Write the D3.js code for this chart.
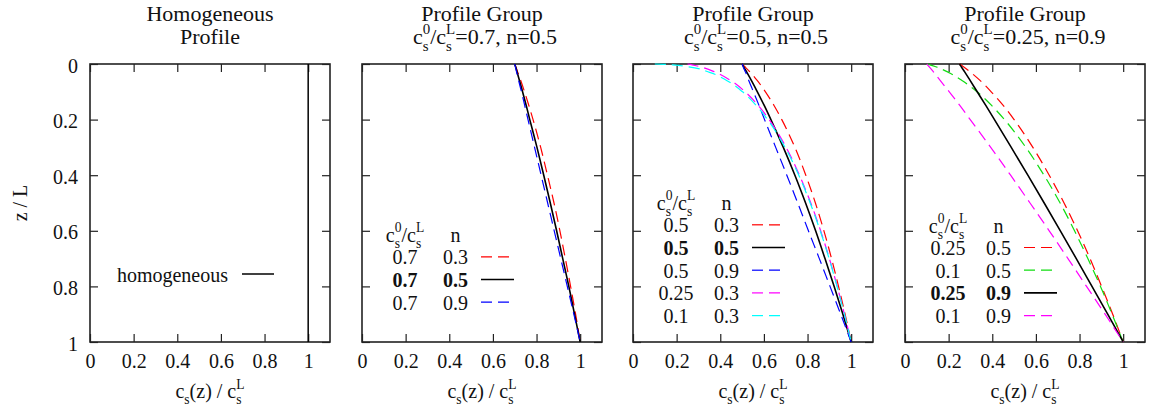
<!DOCTYPE html>
<html lang="en">
<head>
<meta charset="UTF-8">
<title>Solid concentration profiles</title>
<script src="https://cdnjs.cloudflare.com/ajax/libs/d3/7.8.5/d3.min.js"></script>
<style>
  body { margin: 0; background: #fff; }
  svg { display: block; }
  text { font-family: "Liberation Serif", "DejaVu Serif", serif; }
</style>
</head>
<body>
<svg id="chart" width="1149" height="415" font-family="Liberation Serif, DejaVu Serif, serif"></svg>
<script>
// depth samples z / L shared by all profiles
const zDepth = [0, 0.001, 0.003, 0.01, 0.03, 0.06, 0.1, 0.15, 0.2, 0.3, 0.4, 0.5, 0.6, 0.7, 0.8, 0.9, 1];

// cs(z)/cs^L, named by c0 and n
const p07n03 = [0.7, 0.700, 0.701, 0.705, 0.714, 0.728, 0.745, 0.765, 0.784, 0.819, 0.850, 0.880, 0.907, 0.932, 0.956, 0.979, 1];
const p07n05 = [0.7, 0.700, 0.701, 0.704, 0.711, 0.722, 0.736, 0.753, 0.769, 0.802, 0.833, 0.863, 0.892, 0.920, 0.948, 0.974, 1];
const p07n09 = [0.7, 0.700, 0.701, 0.703, 0.709, 0.718, 0.731, 0.746, 0.761, 0.791, 0.821, 0.851, 0.881, 0.911, 0.941, 0.971, 1];
const p05n03 = [0.5, 0.501, 0.504, 0.513, 0.538, 0.570, 0.607, 0.647, 0.682, 0.742, 0.792, 0.836, 0.875, 0.910, 0.942, 0.972, 1];
const p05n05 = [0.5, 0.501, 0.502, 0.507, 0.522, 0.543, 0.570, 0.602, 0.632, 0.689, 0.742, 0.791, 0.837, 0.880, 0.922, 0.962, 1];
const p05n09 = [0.5, 0.501, 0.502, 0.505, 0.516, 0.531, 0.552, 0.578, 0.603, 0.654, 0.705, 0.755, 0.804, 0.854, 0.903, 0.952, 1];
const p025n03 = [0.25, 0.257, 0.271, 0.308, 0.379, 0.449, 0.514, 0.575, 0.624, 0.702, 0.763, 0.815, 0.860, 0.900, 0.936, 0.969, 1];
const p01n03 = [0.1, 0.141, 0.183, 0.255, 0.351, 0.431, 0.502, 0.566, 0.617, 0.697, 0.760, 0.812, 0.858, 0.899, 0.935, 0.969, 1];
const p025n05 = [0.25, 0.252, 0.256, 0.268, 0.301, 0.345, 0.395, 0.451, 0.5, 0.586, 0.661, 0.729, 0.791, 0.848, 0.901, 0.952, 1];
const p01n05 = [0.1, 0.105, 0.114, 0.141, 0.199, 0.263, 0.330, 0.398, 0.456, 0.554, 0.637, 0.711, 0.777, 0.838, 0.896, 0.949, 1];
const p025n09 = [0.25, 0.251, 0.252, 0.258, 0.275, 0.299, 0.331, 0.371, 0.410, 0.487, 0.563, 0.638, 0.712, 0.785, 0.857, 0.929, 1];
const p01n09 = [0.1, 0.101, 0.103, 0.111, 0.132, 0.162, 0.203, 0.252, 0.299, 0.393, 0.484, 0.573, 0.661, 0.747, 0.832, 0.917, 1];

// homogeneous profile
const homogZ = [0, 1];
const homogC = [1, 1];

const xTicks = [0, 0.2, 0.4, 0.6, 0.8, 1];
const yTicks = [0, 0.2, 0.4, 0.6, 0.8, 1];

const titleTop = ["Homogeneous", "Profile Group", "Profile Group", "Profile Group"];
const groupC0 = ["", "0.7", "0.5", "0.25"];
const groupN = ["", "0.5", "0.5", "0.9"];

// legend labels per panel
const legendC0 = [[], ["0.7", "0.7", "0.7"], ["0.5", "0.5", "0.5", "0.25", "0.1"], ["0.25", "0.1", "0.25", "0.1"]];
const legendN = [[], ["0.3", "0.5", "0.9"], ["0.3", "0.5", "0.9", "0.3", "0.3"], ["0.5", "0.5", "0.9", "0.9"]];
const panelSeries = [
  [],
  [p07n03, p07n05, p07n09],
  [p05n03, p05n05, p05n09, p025n03, p01n03],
  [p025n05, p01n05, p025n09, p01n09]
];

// styling
const seriesColors = [[], ["#ff0000", "#000000", "#0000ff"],
  ["#ff0000", "#000000", "#0000ff", "#ff00ff", "#00ffff"],
  ["#ff0000", "#11dd11", "#000000", "#ff00ff"]];
const mainIndex = [-1, 1, 1, 2];   // solid black, bold legend row
const legendRow0 = [282, 264.3, 232.3, 255];

const svg = d3.select("#chart");
const panelLeft = [90, 362, 633, 905];
const panelW = 240, plotTop = 64, plotBottom = 342;
const rowGap = 22.7;
const serif = "Liberation Serif, DejaVu Serif, serif";

// text with c_s^0 style stacked scripts
function rich(parent, cx, y, parts, fs, anchor, weight) {
  const ss = fs * 0.68;
  const t = parent.append("text").attr("font-size", fs).attr("fill", "#111")
    .attr("font-family", serif).attr("font-weight", weight || "normal");
  let pen = 0;
  const place = (str, dy, size) => {
    const s = t.append("tspan").attr("x", pen).attr("y", y + dy).attr("font-size", size).text(str);
    return s.node().getComputedTextLength();
  };
  parts.forEach(p => {
    if (typeof p === "string") pen += place(p, 0, fs);
    else {
      let w = 0;
      if (p.sub) w = Math.max(w, place(p.sub, fs * 0.32, ss));
      if (p.sup) w = Math.max(w, place(p.sup, -fs * 0.47, ss));
      pen += w;
    }
  });
  const shift = anchor === "middle" ? cx - pen / 2 : anchor === "end" ? cx - pen : cx;
  t.attr("transform", `translate(${shift},0)`);
  return t;
}

const ratioParts = ["c", {sub: "s", sup: "0"}, "/c", {sub: "s", sup: "L"}];

panelLeft.forEach((L, i) => {
  const x = d3.scaleLinear().domain([0, 1.1]).range([L, L + panelW]);
  const y = d3.scaleLinear().domain([0, 1]).range([plotTop, plotBottom]);
  const g = svg.append("g");
  const cx = L + panelW / 2;

  // titles
  g.append("text").attr("x", cx).attr("y", 20.7).attr("text-anchor", "middle")
    .attr("font-size", 22).attr("font-family", serif).attr("fill", "#111").text(titleTop[i]);
  if (i === 0) {
    g.append("text").attr("x", cx).attr("y", 44.3).attr("text-anchor", "middle")
      .attr("font-size", 22).attr("font-family", serif).attr("fill", "#111").text("Profile");
  } else {
    rich(g, cx + 3, 44.3, ratioParts.concat([`=${groupC0[i]}, n=${groupN[i]}`]), 22, "middle");
  }

  // frame
  g.append("rect").attr("x", L).attr("y", plotTop).attr("width", panelW).attr("height", plotBottom - plotTop)
    .attr("fill", "none").attr("stroke", "#222").attr("stroke-width", 1.6);

  // axes, ticks pointing inward on all sides
  const styleAxis = a => {
    a.select(".domain").remove();
    a.attr("font-family", serif).attr("font-size", 20);
    a.selectAll("line").attr("stroke", "#222").attr("stroke-width", 1.2);
    a.selectAll("text").attr("fill", "#111");
  };
  g.append("g").attr("transform", `translate(0,${plotBottom})`)
    .call(d3.axisBottom(x).tickValues(xTicks).tickSize(-8).tickPadding(12).tickFormat(d3.format("~g")))
    .call(styleAxis);
  g.append("g").attr("transform", `translate(0,${plotTop})`)
    .call(d3.axisTop(x).tickValues(xTicks).tickSize(-8).tickFormat(""))
    .call(styleAxis);
  g.append("g").attr("transform", `translate(${L},0)`)
    .call(d3.axisLeft(y).tickValues(yTicks).tickSize(-8).tickPadding(12)
      .tickFormat(i === 0 ? d3.format("~g") : ""))
    .call(styleAxis)
    .selectAll("text").attr("dy", "0.4em");
  g.append("g").attr("transform", `translate(${L + panelW},0)`)
    .call(d3.axisRight(y).tickValues(yTicks).tickSize(-8).tickFormat(""))
    .call(styleAxis);

  // x axis title
  rich(g, cx, 398, ["c", {sub: "s"}, "(z) / c", {sub: "s", sup: "L"}], 20, "middle");

  const line = d3.line().x(d => x(d[0])).y(d => y(d[1])).curve(d3.curveMonotoneY);

  if (i === 0) {
    g.append("path").datum(d3.zip(homogC, homogZ)).attr("d", line)
      .attr("fill", "none").attr("stroke", "#000").attr("stroke-width", 1.5);
    g.append("text").attr("x", L + 138).attr("y", 282).attr("text-anchor", "end")
      .attr("font-size", 20).attr("font-family", serif).attr("fill", "#111").text("homogeneous");
    g.append("line").attr("x1", L + 152).attr("x2", L + 184).attr("y1", 274).attr("y2", 274)
      .attr("stroke", "#000").attr("stroke-width", 1.5);
    return;
  }

  panelSeries[i].forEach((vals, k) => {
    const solid = k === mainIndex[i];
    g.append("path").datum(d3.zip(vals, zDepth)).attr("d", line)
      .attr("fill", "none").attr("stroke", seriesColors[i][k])
      .attr("stroke-width", solid ? 1.6 : 1.2)
      .attr("stroke-dasharray", solid ? null : "11,6");
  });

  // legend
  const c1 = L + 43, c2 = L + 93.5;
  const hy = legendRow0[i] - 22.5;
  rich(g, c1, hy, ratioParts, 20, "middle");
  g.append("text").attr("x", c2).attr("y", hy).attr("text-anchor", "middle")
    .attr("font-size", 20).attr("font-family", serif).attr("fill", "#111").text("n");
  legendC0[i].forEach((lab, k) => {
    const by = legendRow0[i] + k * rowGap;
    const solid = k === mainIndex[i];
    const w = solid ? "bold" : "normal";
    g.append("text").attr("x", c1).attr("y", by).attr("text-anchor", "middle")
      .attr("font-size", 20).attr("font-family", serif).attr("font-weight", w).attr("fill", "#111").text(lab);
    g.append("text").attr("x", c2).attr("y", by).attr("text-anchor", "middle")
      .attr("font-size", 20).attr("font-family", serif).attr("font-weight", w).attr("fill", "#111").text(legendN[i][k]);
    g.append("line").attr("x1", L + 119).attr("x2", L + 152).attr("y1", by - 7.5).attr("y2", by - 7.5)
      .attr("stroke", seriesColors[i][k]).attr("stroke-width", solid ? 1.6 : 1.2)
      .attr("stroke-dasharray", solid ? null : "11,6");
  });
});

// shared y axis title
svg.append("text").attr("transform", "translate(27,203) rotate(-90)")
  .attr("text-anchor", "middle").attr("font-size", 20).attr("font-family", serif)
  .attr("fill", "#111").text("z / L");
</script>
</body>
</html>
